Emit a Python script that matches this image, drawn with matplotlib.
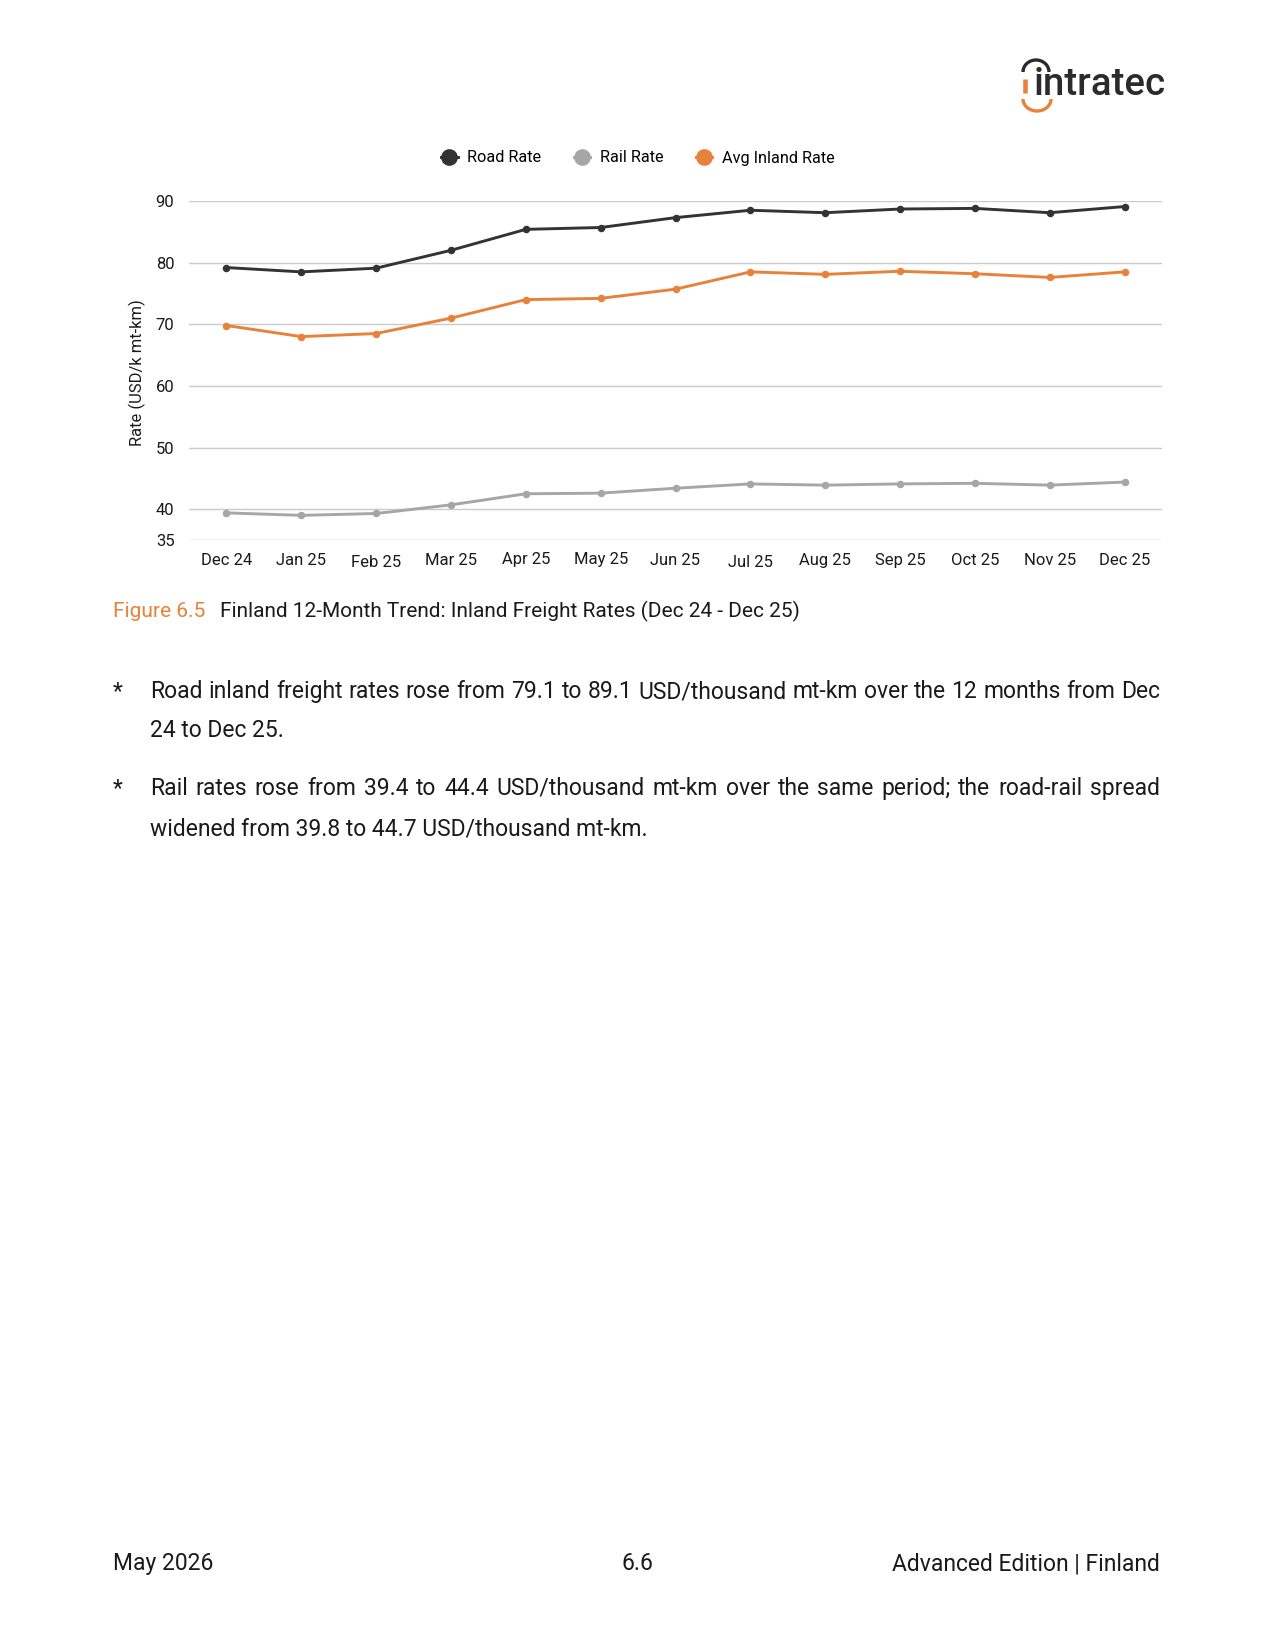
import matplotlib
matplotlib.use("Agg")
import matplotlib.pyplot as plt
from matplotlib.patches import Arc
from matplotlib.lines import Line2D

plt.rcParams['font.family'] = ['Roboto', 'DejaVu Sans']

months = ["Dec 24", "Jan 25", "Feb 25", "Mar 25", "Apr 25", "May 25", "Jun 25",
          "Jul 25", "Aug 25", "Sep 25", "Oct 25", "Nov 25", "Dec 25"]
road_rate = [79.2, 78.5, 79.1, 82.0, 85.4, 85.7, 87.3, 88.5, 88.1, 88.7, 88.8, 88.1, 89.1]
rail_rate = [39.4, 39.0, 39.3, 40.7, 42.5, 42.6, 43.4, 44.1, 43.9, 44.1, 44.2, 43.9, 44.4]
avg_rate = [69.8, 68.0, 68.5, 71.0, 74.0, 74.2, 75.7, 78.5, 78.1, 78.6, 78.2, 77.6, 78.5]
y_ticks = [35, 40, 50, 60, 70, 80, 90]
# the month labels in the original sit a pixel or two off the common line
label_shift = [0, 0, 2, 0, -1, -1, 0, 2, 0, 0, 0, 0, 0]

ROAD = "#333333"
RAIL = "#a6a6a6"
AVG = "#e8823a"
TXT = "#1a1a1a"

W, H = 1275, 1650
fig = plt.figure(figsize=(8.5, 11), dpi=150)
renderer = fig.canvas.get_renderer()


def fx(x):
    return x / W


def fy(y):
    return 1 - y / H


# chart
ax = fig.add_axes([fx(189), fy(540), fx(1162) - fx(189), fy(201) - fy(540)])
x = list(range(len(months)))
ax.plot(x, road_rate, color=ROAD, lw=1.4, marker='o', ms=2.6, label="Road Rate")
ax.plot(x, rail_rate, color=RAIL, lw=1.4, marker='o', ms=2.6, label="Rail Rate")
ax.plot(x, avg_rate, color=AVG, lw=1.4, marker='o', ms=2.6, label="Avg Inland Rate")
ax.set_xlim(-0.5, len(months) - 0.5)
ax.set_ylim(35, 90)
ax.set_yticks(y_ticks)
ax.set_xticks(x)
ax.set_xticklabels([])
ax.grid(axis='y', color="#cccccc", lw=0.7)
ax.set_axisbelow(True)
for s in ax.spines.values():
    s.set_visible(False)
ax.tick_params(length=0, labelsize=8, labelcolor=TXT)
ax.tick_params(axis='y', pad=7)

# month labels, baseline ~25 px under the axis
for i, m in enumerate(months):
    ax.annotate(m, (i, 0), xycoords=('data', 'axes fraction'),
                xytext=(0, -(25 + label_shift[i]) * 72 / 150), textcoords='offset points',
                ha='center', va='baseline', fontsize=8, color=TXT)

fig.text(fx(137), fy(373), "Rate (USD/k mt-km)", rotation=90, ha='center', va='center',
         fontsize=7.9, color=TXT)

handles = [Line2D([], [], color=c, lw=1.4, marker='o', ms=7) for c in (ROAD, RAIL, AVG)]
fig.legend(handles, ["Road Rate", "Rail Rate", "Avg Inland Rate"], loc='center',
           bbox_to_anchor=(fx(638), fy(158)), ncol=3, frameon=False, fontsize=7.8,
           handlelength=1.0, handletextpad=0.6, columnspacing=2.0)

# caption
fig.text(fx(113), fy(617), "Figure 6.5", color=AVG, fontsize=10, va='baseline')
fig.text(fx(220), fy(617), "Finland 12-Month Trend: Inland Freight Rates (Dec 24 - Dec 25)",
         color=TXT, fontsize=10, va='baseline')


def justified(line, x0, x1, y, size=11):
    words = line.split()
    texts = [fig.text(0, fy(y), w, fontsize=size, va='baseline', color=TXT) for w in words]
    widths = [t.get_window_extent(renderer).width for t in texts]
    gap = (x1 - x0 - sum(widths)) / (len(words) - 1)
    pos = x0
    for t, w in zip(texts, widths):
        t.set_x(fx(pos))
        pos += w + gap


fig.text(fx(113), fy(698), "*", fontsize=11, va='baseline', color=TXT)
justified("Road inland freight rates rose from 79.1 to 89.1 USD/thousand mt-km over the 12 months from Dec",
          150, 1160, 698)
fig.text(fx(150), fy(737), "24 to Dec 25.", fontsize=11, va='baseline', color=TXT)
fig.text(fx(113), fy(795), "*", fontsize=11, va='baseline', color=TXT)
justified("Rail rates rose from 39.4 to 44.4 USD/thousand mt-km over the same period; the road-rail spread",
          150, 1160, 795)
fig.text(fx(150), fy(835), "widened from 39.8 to 44.7 USD/thousand mt-km.", fontsize=11,
         va='baseline', color=TXT)

# footer
fig.text(fx(113), fy(1570), "May 2026", fontsize=11, va='baseline', color=TXT)
fig.text(fx(637), fy(1570), "6.6", fontsize=11, va='baseline', ha='center', color=TXT)
fig.text(fx(1160), fy(1570), "Advanced Edition | Finland", fontsize=11, va='baseline', ha='right', color=TXT)

# logo
lg = fig.add_axes([fx(1010), fy(118), fx(170), fy(0) - fy(66)])
lg.set_xlim(1010, 1180)
lg.set_ylim(118, 52)
lg.axis('off')
lg.add_patch(Arc((1036, 72), 26, 24, theta1=180, theta2=360, color="#2b2b2b", lw=1.6))
lg.plot([1025, 1025], [79, 93], color=AVG, lw=2.2, solid_capstyle='butt')
lg.add_patch(Arc((1037, 99), 28, 24, theta1=0, theta2=180, color=AVG, lw=1.6))
lg.text(1034, 95, "intratec", fontsize=18.5, fontweight='medium', color="#2b2b2b", va='baseline')

fig.savefig("out.png", dpi=150)
